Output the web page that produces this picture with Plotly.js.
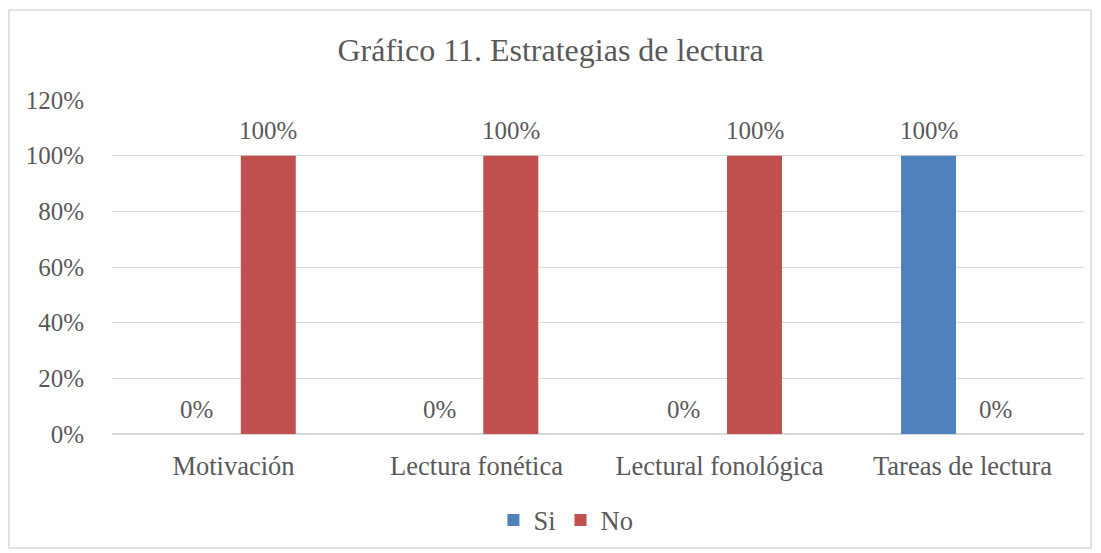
<!DOCTYPE html>
<html>
<head>
<meta charset="utf-8">
<script src="https://cdn.plot.ly/plotly-3.0.1.min.js"></script>
<style>
html,body{margin:0;padding:0;background:#fff;}
#chart{width:1101px;height:553px;}
</style>
</head>
<body>
<div id="chart"></div>
<script>
var categories = ["Motivación", "Lectura fonética", "Lectural fonológica", "Tareas de lectura"];
var siValues = [0, 0, 0, 1];
var noValues = [1, 1, 1, 0];
var seriesNames = ["Si", "No"];
var titleText = "Gráfico 11. Estrategias de lectura";

var FONT = "'Liberation Serif', 'Times New Roman', serif";
var GREY = "#595959";
var barW = 0.2263;
var siOffset = [-0.195, -0.194, -0.191, -0.253];
var noOffset = [0.03, 0.028, 0.031, -0.027];

var traces = [
  {
    type: "bar", name: seriesNames[0], x: categories, y: siValues,
    marker: {color: "#4F81BD"}, width: barW, offset: siOffset, hoverinfo: "skip"
  },
  {
    type: "bar", name: seriesNames[1], x: categories, y: noValues,
    marker: {color: "#C0504D"}, width: barW, offset: noOffset, hoverinfo: "skip"
  }
];

function labels(vals, offs, zeroShift) {
  return vals.map(function (v, i) {
    return {
      x: i + offs[i] + barW / 2, y: v, xref: "x", yref: "y",
      text: Math.round(v * 100) + "%", showarrow: false,
      xanchor: "center", yanchor: "middle",
      xshift: v === 0 ? zeroShift : 0, yshift: 25,
      font: {family: FONT, size: 25, color: GREY}
    };
  });
}

var L = 112, R = 17, T = 100, B = 119;
var pw = 1101 - L - R, ph = 553 - T - B;

var layout = {
  width: 1101, height: 553,
  margin: {l: L, r: R, t: T, b: B, pad: 0, autoexpand: false},
  paper_bgcolor: "#fff", plot_bgcolor: "#fff",
  font: {family: FONT, color: GREY, size: 25},
  title: {text: titleText, font: {family: FONT, size: 32, color: GREY},
          x: 0.5, xanchor: "center", y: 1 - 50/553, yanchor: "middle"},
  barmode: "group",
  showlegend: true,
  legend: {orientation: "h", x: 0.467, xanchor: "center", y: -0.258, yanchor: "middle",
           font: {family: FONT, size: 26.5, color: GREY}, traceorder: "normal"},
  xaxis: {type: "category", showgrid: false, zeroline: false, showline: false,
          ticks: "", tickfont: {family: FONT, size: 26.5, color: GREY}, automargin: false,
          ticklabelstandoff: 13, fixedrange: true, range: [-0.5, 3.5]},
  yaxis: {range: [0, 1.2], dtick: 0.2, tickformat: ".0%", showgrid: true, automargin: false,
          gridcolor: "#d9d9d9", gridwidth: 1, zeroline: true, zerolinecolor: "#d9d9d9",
          zerolinewidth: 1.5, showline: false, ticks: "",
          tickfont: {family: FONT, size: 25, color: GREY},
          ticklabelstandoff: 27, fixedrange: true},
  annotations: labels(siValues, siOffset, -17).concat(labels(noValues, noOffset, 12)),
  shapes: [{
    type: "rect", xref: "paper", yref: "paper", layer: "below",
    x0: (9 - L) / pw, x1: (1091 - L) / pw,
    y0: (553 - B - 548) / ph, y1: (553 - B - 10) / ph,
    line: {color: "#d9d9d9", width: 1.5}, fillcolor: "rgba(0,0,0,0)"
  }]
};

Plotly.newPlot("chart", traces, layout, {displayModeBar: false, staticPlot: true});
</script>
</body>
</html>
